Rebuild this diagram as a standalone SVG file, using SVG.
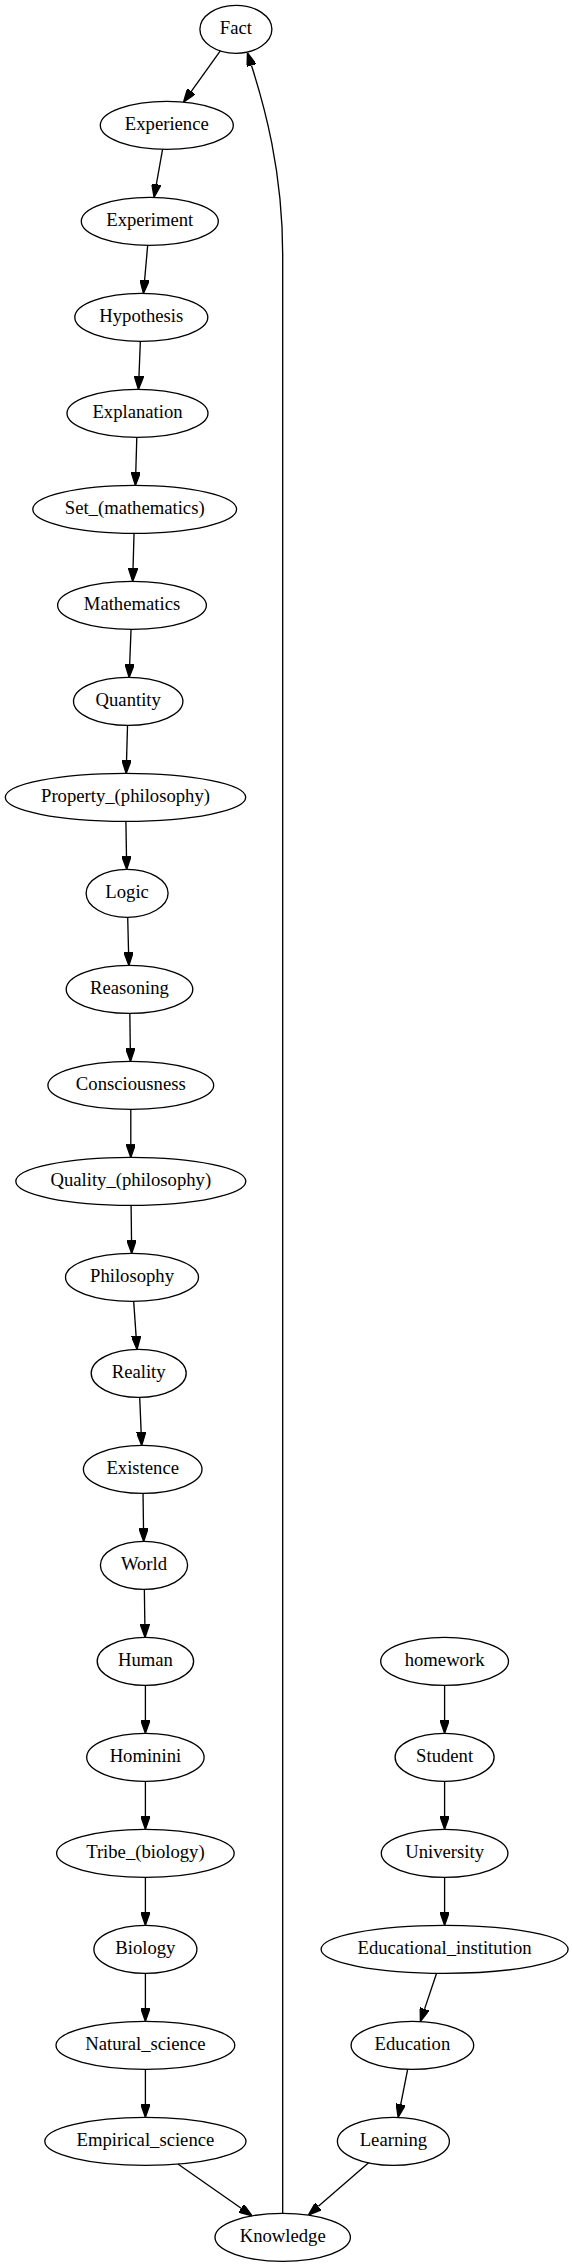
<svg xmlns="http://www.w3.org/2000/svg" width="573" height="2267" viewBox="0 0 573 2267">
<style>
.n ellipse{fill:none;stroke:#000;stroke-width:1.33}
.n text{font-family:"Liberation Serif","Times New Roman",serif;font-size:18.67px;text-anchor:middle;fill:#000}
#edges path{fill:none;stroke:#000;stroke-width:1.33;marker-end:url(#ah)}
</style>
<defs>
<marker id="ah" markerUnits="userSpaceOnUse" viewBox="0 0 10 7" refX="0" refY="3.5" markerWidth="13.33" markerHeight="9.33" orient="auto">
<path d="M0,0 L10,3.5 L0,7 z" fill="#000" stroke="#000" stroke-width="1"/>
</marker>
</defs>
<rect width="573" height="2267" fill="#fff"/>
<g id="edges">
<path d="M220.3,50.97 L191.3,91.3"/>
<path d="M162.56,149.28 L156.36,184.25"/>
<path d="M147.67,245.33 L144.61,280.13"/>
<path d="M140.35,341.33 L138.98,376.13"/>
<path d="M136.8,437.33 L135.79,472.13"/>
<path d="M134.03,533.33 L133.05,568.13"/>
<path d="M131.05,629.33 L129.68,664.13"/>
<path d="M127.53,725.33 L126.55,760.13"/>
<path d="M125.9,821.33 L126.48,856.13"/>
<path d="M127.7,917.33 L128.57,952.13"/>
<path d="M129.83,1013.33 L130.3,1048.13"/>
<path d="M130.8,1109.33 L130.8,1144.13"/>
<path d="M131.1,1205.33 L131.53,1240.13"/>
<path d="M133.68,1301.33 L136.1,1336.13"/>
<path d="M139.7,1397.33 L141.14,1432.13"/>
<path d="M143.03,1493.33 L143.5,1528.13"/>
<path d="M144.35,1589.33 L144.86,1624.13"/>
<path d="M145.4,1685.33 L145.4,1720"/>
<path d="M145.4,1781.33 L145.4,1816"/>
<path d="M145.4,1877.33 L145.4,1912"/>
<path d="M145.4,1973.33 L145.4,2008"/>
<path d="M145.4,2069.33 L145.4,2104"/>
<path d="M177.9,2164.04 L241.15,2208.28"/>
<path d="M444.6,1685.33 L444.6,1720"/>
<path d="M444.6,1781.33 L444.6,1816"/>
<path d="M444.6,1877.33 L444.6,1912"/>
<path d="M436.57,1973.28 L424.62,2008.89"/>
<path d="M407.66,2069.26 L400.72,2104.34"/>
<path d="M368.59,2162.84 L318.39,2206.37"/>
<path d="M282.7,2213.33 L282.7,255 C282.7,170 264,105 251.5,65.5"/>
</g>
<g id="fact" class="n"><ellipse cx="235.9" cy="29.33" rx="36" ry="24"/><text x="235.9" y="34.4">Fact</text></g>
<g id="experience" class="n"><ellipse cx="166.8" cy="125.33" rx="66.5" ry="24"/><text x="166.8" y="130.4">Experience</text></g>
<g id="experiment" class="n"><ellipse cx="149.8" cy="221.33" rx="68.5" ry="24"/><text x="149.8" y="226.4">Experiment</text></g>
<g id="hypothesis" class="n"><ellipse cx="141.3" cy="317.33" rx="66.5" ry="24"/><text x="141.3" y="322.4">Hypothesis</text></g>
<g id="explanation" class="n"><ellipse cx="137.5" cy="413.33" rx="70.5" ry="24"/><text x="137.5" y="418.4">Explanation</text></g>
<g id="set_mathematics" class="n"><ellipse cx="134.7" cy="509.33" rx="101.9" ry="24"/><text x="134.7" y="514.4">Set_(mathematics)</text></g>
<g id="mathematics" class="n"><ellipse cx="132" cy="605.33" rx="74.4" ry="24"/><text x="132" y="610.4">Mathematics</text></g>
<g id="quantity" class="n"><ellipse cx="128.2" cy="701.33" rx="54.7" ry="24"/><text x="128.2" y="706.4">Quantity</text></g>
<g id="property_philosophy" class="n"><ellipse cx="125.5" cy="797.33" rx="120.2" ry="24"/><text x="125.5" y="802.4">Property_(philosophy)</text></g>
<g id="logic" class="n"><ellipse cx="127.1" cy="893.33" rx="41" ry="24"/><text x="127.1" y="898.4">Logic</text></g>
<g id="reasoning" class="n"><ellipse cx="129.5" cy="989.33" rx="63.3" ry="24"/><text x="129.5" y="994.4">Reasoning</text></g>
<g id="consciousness" class="n"><ellipse cx="130.8" cy="1085.33" rx="82.9" ry="24"/><text x="130.8" y="1090.4">Consciousness</text></g>
<g id="quality_philosophy" class="n"><ellipse cx="130.8" cy="1181.33" rx="115" ry="24"/><text x="130.8" y="1186.4">Quality_(philosophy)</text></g>
<g id="philosophy" class="n"><ellipse cx="132" cy="1277.33" rx="66.5" ry="24"/><text x="132" y="1282.4">Philosophy</text></g>
<g id="reality" class="n"><ellipse cx="138.7" cy="1373.33" rx="47.5" ry="24"/><text x="138.7" y="1378.4">Reality</text></g>
<g id="existence" class="n"><ellipse cx="142.7" cy="1469.33" rx="59.3" ry="24"/><text x="142.7" y="1474.4">Existence</text></g>
<g id="world" class="n"><ellipse cx="144" cy="1565.33" rx="43.6" ry="24"/><text x="144" y="1570.4">World</text></g>
<g id="human" class="n"><ellipse cx="145.4" cy="1661.33" rx="48.2" ry="24"/><text x="145.4" y="1666.4">Human</text></g>
<g id="hominini" class="n"><ellipse cx="145.4" cy="1757.33" rx="58.7" ry="24"/><text x="145.4" y="1762.4">Hominini</text></g>
<g id="tribe_biology" class="n"><ellipse cx="145.4" cy="1853.33" rx="88.8" ry="24"/><text x="145.4" y="1858.4">Tribe_(biology)</text></g>
<g id="biology" class="n"><ellipse cx="145.4" cy="1949.33" rx="51.5" ry="24"/><text x="145.4" y="1954.4">Biology</text></g>
<g id="natural_science" class="n"><ellipse cx="145.4" cy="2045.33" rx="89.4" ry="24"/><text x="145.4" y="2050.4">Natural_science</text></g>
<g id="empirical_science" class="n"><ellipse cx="145.4" cy="2141.33" rx="100.6" ry="24"/><text x="145.4" y="2146.4">Empirical_science</text></g>
<g id="knowledge" class="n"><ellipse cx="282.7" cy="2237.33" rx="67.7" ry="24"/><text x="282.7" y="2242.4">Knowledge</text></g>
<g id="homework" class="n"><ellipse cx="444.6" cy="1661.33" rx="63.9" ry="24"/><text x="444.6" y="1666.4">homework</text></g>
<g id="student" class="n"><ellipse cx="444.6" cy="1757.33" rx="49.5" ry="24"/><text x="444.6" y="1762.4">Student</text></g>
<g id="university" class="n"><ellipse cx="444.6" cy="1853.33" rx="63.3" ry="24"/><text x="444.6" y="1858.4">University</text></g>
<g id="educational_institution" class="n"><ellipse cx="444.6" cy="1949.33" rx="123.5" ry="24"/><text x="444.6" y="1954.4">Educational_institution</text></g>
<g id="education" class="n"><ellipse cx="412.4" cy="2045.33" rx="61.3" ry="24"/><text x="412.4" y="2050.4">Education</text></g>
<g id="learning" class="n"><ellipse cx="393.4" cy="2141.33" rx="56" ry="24"/><text x="393.4" y="2146.4">Learning</text></g>
</svg>
